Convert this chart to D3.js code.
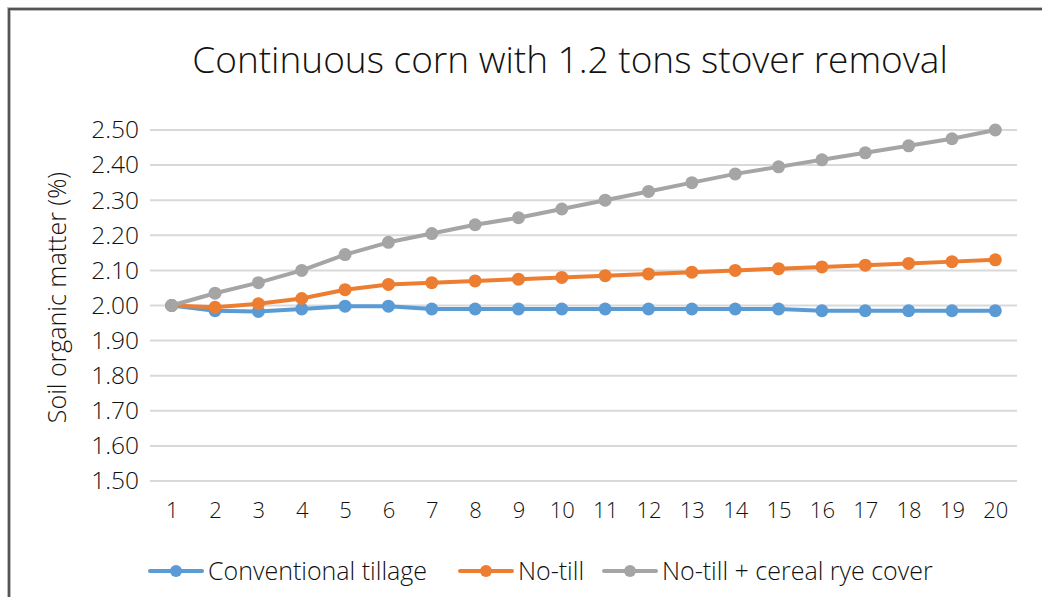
<!DOCTYPE html>
<html>
<head>
<meta charset="utf-8">
<title>Continuous corn</title>
<style>
  body { margin: 0; background: #fff; }
  svg text { font-family: "Open Sans", "DejaVu Sans", sans-serif; font-weight: 300; fill: #111; }
</style>
</head>
<body>
<svg id="chart"></svg>
<script src="https://d3js.org/d3.v7.min.js"></script>
<script>
const years = d3.range(1, 21);
const yTicks = [1.5, 1.6, 1.7, 1.8, 1.9, 2.0, 2.1, 2.2, 2.3, 2.4, 2.5];

const conventional = [2.00, 1.985, 1.983, 1.99, 1.998, 1.998, 1.99, 1.99, 1.99, 1.99,
                      1.99, 1.99, 1.99, 1.99, 1.99, 1.985, 1.985, 1.985, 1.985, 1.985];
const noTill = [2.00, 1.995, 2.005, 2.02, 2.045, 2.06, 2.065, 2.07, 2.075, 2.08,
                2.085, 2.09, 2.095, 2.10, 2.105, 2.11, 2.115, 2.12, 2.125, 2.13];
const noTillRye = [2.00, 2.035, 2.065, 2.10, 2.145, 2.18, 2.205, 2.23, 2.25, 2.275,
                   2.30, 2.325, 2.35, 2.375, 2.395, 2.415, 2.435, 2.455, 2.475, 2.50];

const seriesNames = ['Conventional tillage', 'No-till', 'No-till + cereal rye cover'];
const colors = ['#5b9bd5', '#ed7d31', '#a5a5a5'];
const series = [conventional, noTill, noTillRye];

const width = 1042, height = 597;
const plot = {left: 150, right: 1017, top: 130, bottom: 481};

const svg = d3.select('#chart')
  .attr('width', width)
  .attr('height', height);

// frame
svg.append('path')
  .attr('d', `M9,${height} V9 H${width}`)
  .attr('fill', 'none')
  .attr('stroke', '#bbb')
  .attr('stroke-width', 4);
svg.append('path')
  .attr('d', `M9,${height} V9 H${width}`)
  .attr('fill', 'none')
  .attr('stroke', '#333')
  .attr('stroke-width', 1.5);

const x = d3.scalePoint()
  .domain(years)
  .range([plot.left, plot.right])
  .padding(0.5);

const y = d3.scaleLinear()
  .domain([1.5, 2.5])
  .range([plot.bottom, plot.top]);

svg.append('text')
  .attr('x', 570)
  .attr('y', 73)
  .attr('text-anchor', 'middle')
  .style('font-size', '37px')
  .text('Continuous corn with 1.2 tons stover removal');

// gridlines
svg.append('g')
  .selectAll('line')
  .data(yTicks)
  .join('line')
  .attr('x1', plot.left)
  .attr('x2', plot.right)
  .attr('y1', d => y(d))
  .attr('y2', d => y(d))
  .attr('stroke', '#d9d9d9')
  .attr('stroke-width', 2);

// y axis
const yAxis = svg.append('g')
  .attr('transform', `translate(${plot.left - 11},0)`)
  .call(d3.axisLeft(y).tickValues(yTicks).tickFormat(d3.format('.2f')).tickSize(0).tickPadding(0));
yAxis.select('.domain').remove();
yAxis.selectAll('text')
  .style('font-size', '24.5px')
  .style('font-family', null)
  .attr('fill', '#111');

// x axis
const xAxis = svg.append('g')
  .attr('transform', `translate(0,${plot.bottom + 21})`)
  .call(d3.axisBottom(x).tickSize(0).tickPadding(0));
xAxis.select('.domain').remove();
xAxis.selectAll('text')
  .attr('dy', '0.71em')
  .style('font-size', '22px')
  .style('font-family', null)
  .attr('fill', '#111');

svg.append('text')
  .attr('transform', `translate(66,${(plot.top + plot.bottom) / 2 - 8}) rotate(-90)`)
  .attr('text-anchor', 'middle')
  .style('font-size', '25px')
  .text('Soil organic matter (%)');

const line = d3.line()
  .x((d, i) => x(years[i]))
  .y(d => y(d));

series.forEach((vals, k) => {
  const g = svg.append('g');
  g.append('path')
    .datum(vals)
    .attr('d', line)
    .attr('fill', 'none')
    .attr('stroke', colors[k])
    .attr('stroke-width', 4)
    .attr('stroke-linejoin', 'round');
  g.selectAll('circle')
    .data(vals)
    .join('circle')
    .attr('cx', (d, i) => x(years[i]))
    .attr('cy', d => y(d))
    .attr('r', 6.5)
    .attr('fill', colors[k]);
});

// legend
const legendX = [150, 460, 604];
const legend = svg.append('g');
seriesNames.forEach((name, k) => {
  const lg = legend.append('g').attr('transform', `translate(${legendX[k]},571)`);
  lg.append('line')
    .attr('x1', 0).attr('x2', 52)
    .attr('stroke', colors[k])
    .attr('stroke-width', 4)
    .attr('stroke-linecap', 'round');
  lg.append('circle')
    .attr('cx', 26)
    .attr('r', 6)
    .attr('fill', colors[k]);
  lg.append('text')
    .attr('x', 58)
    .attr('dy', '0.35em')
    .style('font-size', '25px')
    .text(name);
});
</script>
</body>
</html>
